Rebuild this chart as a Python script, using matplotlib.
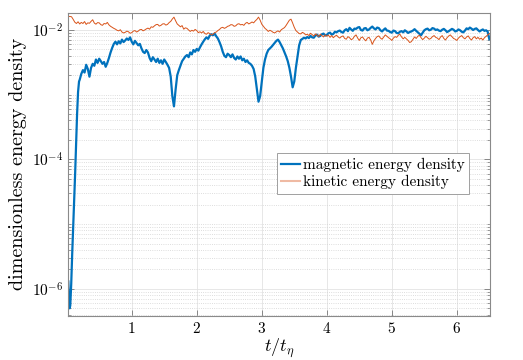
import numpy as np
import matplotlib.pyplot as plt
from matplotlib.ticker import FixedLocator, NullFormatter

plt.rcParams['font.family'] = 'cmr10'
plt.rcParams['mathtext.fontset'] = 'cm'
plt.rcParams['axes.unicode_minus'] = False
plt.rcParams['axes.formatter.use_mathtext'] = True

# early growth phase of the magnetic energy (t/t_eta, value)
t_early_mag = [0.025, 0.035, 0.045, 0.055, 0.07, 0.085, 0.10, 0.115, 0.13, 0.145, 0.16, 0.175, 0.19]
mag_early = [1.3e-6, 0.7e-6, 0.5e-6, 0.55e-6, 1.2e-6, 3.5e-6, 9e-6, 2.5e-5, 6e-5, 1.8e-4, 5e-4, 1.1e-3, 1.6e-3]

t_early_kin = [0.025, 0.05, 0.075, 0.10, 0.125, 0.15, 0.175]
kin_early = [16.2e-3, 16.2e-3, 16.0e-3, 14.6e-3, 13.2e-3, 12.6e-3, 13.4e-3]

# sampled every 0.025 from t = 0.20 to 6.50, values in units of 1e-3
t_grid = np.arange(0.20, 6.5001, 0.025)

mag_1e3 = [
    1.7, 2.1, 2.4, 2.2, 2.9, 2.5, 1.9, 2.6, 3.0, 2.8, 3.5, 3.1, 3.6, 3.3, 3.0, 3.2, 2.7, 3.1, 3.7, 4.5,
    5.3, 6.1, 6.6, 6.0, 6.7, 6.2, 7.1, 6.5, 6.9, 7.4, 7.0, 7.7, 6.6, 6.0, 6.8, 6.3, 5.8, 6.1, 5.2, 4.6,
    4.4, 4.9, 4.5, 3.7, 3.3, 3.8, 3.5, 3.2, 3.6, 3.1, 3.4, 3.0, 3.5, 3.2, 2.9, 2.6, 1.9, 0.95, 0.66, 1.2,
    2.0, 2.4, 2.8, 3.3, 3.6, 3.9, 4.1, 3.8, 4.5, 4.2, 4.9, 4.6, 5.1, 4.8, 5.4, 6.0, 6.6, 7.2, 7.7, 7.3,
    8.2, 8.6, 8.3, 8.8, 8.0, 7.4, 6.5, 5.6, 4.6, 4.0, 3.8, 4.3, 4.1, 3.8, 4.2, 3.7, 3.5, 3.9, 3.6, 3.9,
    3.4, 3.6, 3.2, 3.4, 3.1, 3.0, 2.8, 2.5, 1.9, 1.2, 0.78, 0.95, 1.6, 2.6, 3.5, 4.3, 4.9, 5.2, 5.5, 5.9,
    6.3, 6.8, 7.1, 6.5, 5.8, 5.2, 4.5, 3.9, 3.3, 2.6, 1.9, 1.3, 1.6, 2.6, 3.9, 5.8, 7.0, 7.3, 7.6, 7.4,
    7.8, 7.5, 8.1, 7.7, 7.6, 8.2, 8.5, 7.9, 8.1, 8.6, 8.8, 8.2, 8.4, 8.9, 9.1, 8.5, 8.7, 9.4, 9.2, 9.6,
    9.8, 9.3, 9.1, 9.9, 10.3, 9.6, 10.8, 10.2, 9.7, 10.5, 10.4, 10.9, 11.1, 10.0, 9.8, 10.6, 10.7, 9.9, 10.2, 10.8,
    11.3, 10.6, 10.2, 10.9, 10.7, 9.9, 9.5, 10.1, 10.6, 9.8, 9.7, 9.3, 9.1, 9.8, 9.6, 9.0, 8.9, 9.4, 9.6, 9.2,
    9.9, 9.5, 9.0, 9.3, 9.5, 9.8, 10.3, 9.7, 9.2, 8.7, 8.3, 9.1, 9.9, 10.3, 10.5, 9.9, 10.1, 10.7, 10.5, 10.0,
    10.2, 9.8, 9.6, 10.1, 10.4, 9.9, 9.3, 9.6, 10.0, 10.4, 10.1, 9.5, 9.7, 10.2, 9.9, 9.4, 9.2, 9.8, 10.6, 10.3,
    10.9, 10.5, 10.0, 10.4, 10.6, 10.0, 9.5, 9.9, 10.2, 9.7, 9.9, 9.4, 7.2,
]

kin_1e3 = [
    12.4, 13.1, 12.6, 13.5, 12.2, 12.9, 12.7, 13.6, 14.4, 12.8, 12.3, 13.0, 12.9, 12.1, 11.8, 12.6, 12.4, 13.1, 12.0, 11.4,
    11.0, 10.6, 10.3, 9.9, 9.7, 10.1, 9.3, 9.0, 9.2, 9.6, 9.4, 8.9, 9.1, 9.6, 9.8, 9.3, 9.6, 10.1, 10.2, 9.7,
    10.0, 10.4, 10.7, 10.3, 11.2, 11.0, 11.6, 12.1, 12.2, 11.5, 11.8, 12.4, 12.5, 11.9, 12.2, 13.0, 13.6, 14.8, 15.8, 13.9,
    12.4, 11.8, 11.2, 11.7, 10.3, 10.8, 10.6, 10.0, 9.5, 9.9, 9.6, 10.2, 9.8, 9.1, 9.4, 9.0, 9.5, 8.8, 8.6, 9.1,
    8.8, 8.4, 8.6, 9.1, 9.3, 9.8, 10.2, 10.8, 11.0, 10.6, 10.9, 11.4, 11.6, 12.1, 12.0, 11.4, 11.6, 12.3, 12.5, 12.0,
    12.2, 11.8, 12.7, 13.1, 12.4, 12.8, 13.3, 12.9, 13.8, 14.6, 15.8, 14.2, 12.3, 11.4, 10.6, 10.1, 9.5, 9.9, 9.6, 9.2,
    9.0, 9.4, 9.7, 9.3, 10.1, 10.5, 10.9, 11.8, 12.9, 14.2, 14.7, 12.8, 11.0, 9.8, 9.3, 8.8, 8.7, 9.2, 8.9, 8.4,
    8.6, 8.2, 8.9, 8.5, 8.1, 8.7, 8.4, 7.9, 8.6, 8.2, 7.8, 8.4, 8.0, 8.3, 7.7, 8.2, 7.6, 8.0, 8.3, 7.8,
    7.5, 7.9, 8.1, 7.4, 7.2, 7.9, 7.6, 7.1, 7.3, 8.0, 8.4, 7.5, 6.9, 7.6, 7.8, 7.2, 6.8, 7.5, 7.7, 7.0,
    6.0, 6.8, 7.4, 7.9, 8.1, 7.5, 7.2, 7.8, 8.4, 8.0, 7.6, 7.3, 6.9, 7.5, 7.9, 7.7, 8.3, 8.6, 7.8, 7.3,
    7.7, 7.3, 6.9, 6.4, 6.6, 7.2, 7.8, 7.4, 8.0, 8.3, 7.6, 7.1, 7.5, 8.0, 7.6, 7.2, 7.4, 7.9, 8.2, 7.7,
    7.5, 7.1, 7.8, 8.2, 7.4, 7.0, 7.6, 8.1, 8.4, 7.9, 7.4, 7.2, 6.9, 7.5, 7.9, 8.2, 7.6, 7.3, 7.8, 8.1,
    7.4, 7.0, 7.6, 7.9, 7.3, 7.7, 7.2, 7.5, 7.0, 7.6, 8.0, 8.4, 8.8,
]

t_mag = np.concatenate([t_early_mag, t_grid])
magnetic = np.concatenate([mag_early, np.array(mag_1e3) * 1e-3])
t_kin = np.concatenate([t_early_kin, t_grid])
kinetic = np.concatenate([kin_early, np.array(kin_1e3) * 1e-3])

fig = plt.figure(figsize=(5.23, 3.6), dpi=100)
ax = fig.add_axes([0.1306, 0.1222, 0.8063, 0.8425])

ax.plot(t_mag, magnetic, color='#0072BD', lw=1.6, label='magnetic energy density')
ax.plot(t_kin, kinetic, color='#D95319', lw=0.7, label='kinetic energy density')

ax.set_yscale('log')
ax.set_xlim(0.025, 6.51)
ax.set_ylim(3.8e-7, 1.85e-2)

ax.yaxis.set_major_locator(FixedLocator([1e-6, 1e-4, 1e-2]))
minors = [m * 10.0**e for e in range(-7, -1) for m in range(1, 10)]
minors = [v for v in minors if v not in (1e-6, 1e-4, 1e-2)]
ax.yaxis.set_minor_locator(FixedLocator(minors))
ax.yaxis.set_minor_formatter(NullFormatter())
ax.set_xticks([1, 2, 3, 4, 5, 6])

ax.grid(True, which='major', color='#e3e3e3', lw=0.6)
ax.grid(True, which='minor', axis='y', color='#d2d2d2', lw=0.6, ls=':')
ax.set_axisbelow(True)

ax.tick_params(which='both', direction='in', top=True, right=True, color='#777777',
               labelsize=11)
ax.tick_params(which='major', length=4, width=0.6)
ax.tick_params(which='minor', length=2.2, width=0.5)
for s in ax.spines.values():
    s.set_color('#8a8a8a')
    s.set_linewidth(0.8)

ax.set_xlabel(r'$t/t_\eta$', fontsize=13, labelpad=0)
ax.set_ylabel('dimensionless energy density', fontsize=14.5, labelpad=4)

leg = ax.legend(loc='upper right', bbox_to_anchor=(0.95, 0.537), borderaxespad=0,
                fancybox=False, edgecolor='#a0a0a0', fontsize=11, handlelength=1.2,
                handletextpad=0.2, borderpad=0.3, labelspacing=0.2, framealpha=1)
leg.get_frame().set_linewidth(0.7)
leg.get_lines()[1].set_alpha(0.4)
leg.get_lines()[1].set_linewidth(1.5)

fig.savefig('out.png', dpi=100)
